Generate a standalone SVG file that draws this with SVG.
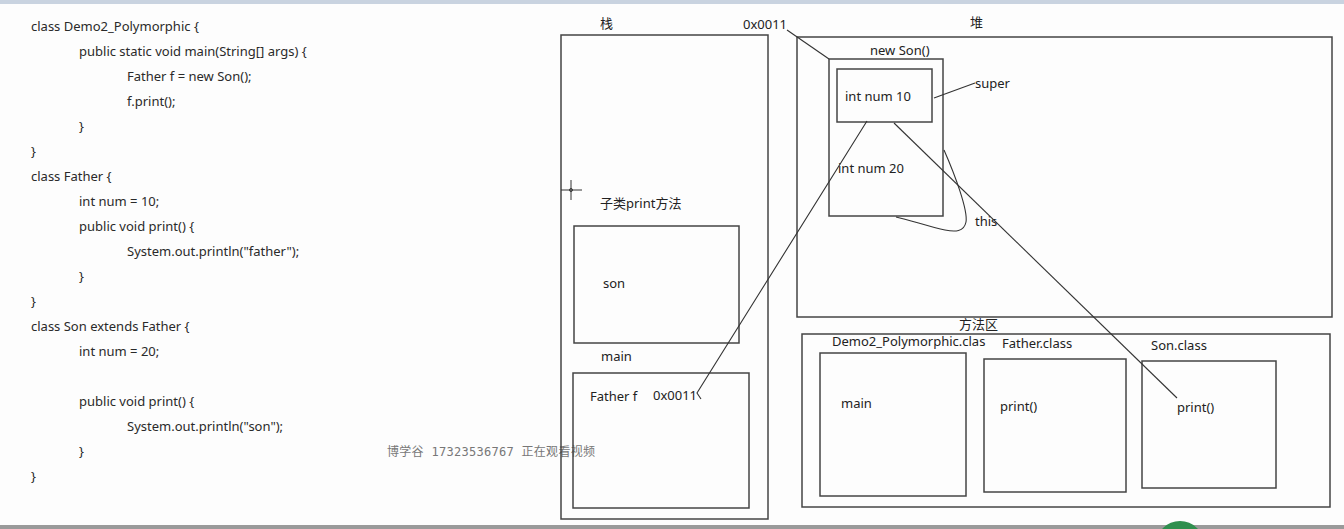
<svg xmlns="http://www.w3.org/2000/svg" width="1344" height="529" viewBox="0 0 1344 529">
  <style>
    .code { font-family: "Noto Sans", "Open Sans", sans-serif; font-size: 13px; fill: #2a2a2a; }
    .lbl { font-family: "Noto Sans", "Noto Sans CJK SC", sans-serif; font-size: 13px; fill: #222; }
    .box { fill: none; stroke: #444; stroke-width: 1.5; }
    .wire { fill: none; stroke: #333; stroke-width: 1.1; }
    .mark { font-family: "DejaVu Sans Mono", "Noto Sans CJK SC", monospace; font-size: 12px; fill: #777; }
  </style>

  <!-- page -->
  <rect x="0" y="0" width="1344" height="529" fill="#fdfdfd"/>
  <rect x="0" y="0" width="1344" height="4" fill="#c9d3e0"/>
  <rect x="0" y="525" width="1344" height="4" fill="#9a9a9a"/>
  <circle cx="1180" cy="545" r="24" fill="#2f8f4e"/>

  <!-- source code -->
  <g id="code">
    <text class="code" x="31" y="31">class Demo2_Polymorphic {</text>
    <text class="code" x="79" y="56">public static void main(String[] args) {</text>
    <text class="code" x="127" y="81">Father f = new Son();</text>
    <text class="code" x="127" y="106">f.print();</text>
    <text class="code" x="79" y="131">}</text>
    <text class="code" x="31" y="156">}</text>
    <text class="code" x="31" y="181">class Father {</text>
    <text class="code" x="79" y="206">int num = 10;</text>
    <text class="code" x="79" y="231">public void print() {</text>
    <text class="code" x="127" y="256">System.out.println("father");</text>
    <text class="code" x="79" y="281">}</text>
    <text class="code" x="31" y="306">}</text>
    <text class="code" x="31" y="331">class Son extends Father {</text>
    <text class="code" x="79" y="356">int num = 20;</text>
    <text class="code" x="79" y="406">public void print() {</text>
    <text class="code" x="127" y="431">System.out.println("son");</text>
    <text class="code" x="79" y="456">}</text>
    <text class="code" x="31" y="481">}</text>
  </g>

  <text class="mark" x="387" y="456" textLength="208" lengthAdjust="spacing">博学谷 17323536767 正在观看视频</text>

  <!-- stack -->
  <g id="stack">
    <text class="lbl" x="600" y="28">栈</text>
    <rect class="box" x="561" y="35" width="207" height="484"/>
  </g>
  <g id="son-print-frame">
    <text class="lbl" x="600" y="208">子类print方法</text>
    <rect class="box" x="574" y="226" width="165" height="117"/>
    <text class="lbl" x="603" y="288">son</text>
  </g>
  <g id="main-frame">
    <text class="lbl" x="601" y="361">main</text>
    <rect class="box" x="573" y="373" width="176" height="135"/>
    <text class="lbl" x="590" y="401">Father f</text>
    <text class="lbl" x="653" y="400">0x0011</text>
  </g>

  <!-- cursor -->
  <g id="cursor" stroke="#333" stroke-width="1" fill="none">
    <line x1="561" y1="190" x2="582" y2="190"/>
    <line x1="571" y1="180" x2="571" y2="200"/>
    <circle cx="571" cy="190" r="1.5"/>
  </g>

  <!-- heap -->
  <g id="heap">
    <text class="lbl" x="970" y="27">堆</text>
    <text class="lbl" x="743" y="29">0x0011</text>
    <rect class="box" x="797" y="37" width="535" height="280"/>
  </g>
  <g id="son-object">
    <text class="lbl" x="870" y="55">new Son()</text>
    <rect class="box" x="829" y="59" width="114" height="157"/>
    <rect class="box" x="837" y="69" width="95" height="53"/>
    <text class="lbl" x="845" y="101">int num 10</text>
    <text class="lbl" x="838" y="173">int num 20</text>
    <text class="lbl" x="975" y="88">super</text>
    <text class="lbl" x="975" y="226">this</text>
  </g>

  <!-- method area -->
  <g id="method-area">
    <text class="lbl" x="959" y="329" font-size="12.5">方法区</text>
    <rect class="box" x="802" y="334" width="528" height="173"/>
  </g>
  <g id="demo-class">
    <text class="lbl" x="832" y="346" font-size="12.5">Demo2_Polymorphic.clas</text>
    <rect class="box" x="820" y="353" width="146" height="143"/>
    <text class="lbl" x="841" y="408">main</text>
  </g>
  <g id="father-class">
    <text class="lbl" x="1002" y="348">Father.class</text>
    <rect class="box" x="984" y="359" width="142" height="133"/>
    <text class="lbl" x="1000" y="411">print()</text>
  </g>
  <g id="son-class">
    <text class="lbl" x="1151" y="350">Son.class</text>
    <rect class="box" x="1142" y="361" width="134" height="127"/>
    <text class="lbl" x="1177" y="412">print()</text>
  </g>

  <!-- connectors -->
  <g id="connectors">
    <path class="wire" d="M787 30 L829 59"/>
    <path class="wire" d="M867 121 L697 393 L701 399"/>
    <path class="wire" d="M894 123 L1177 398"/>
    <path class="wire" d="M934 98 L975 83"/>
    <path class="wire" d="M944 150 C955 175 968 210 966 222 C964 232 955 232 945 230 C930 227 910 220 896 217"/>
  </g>
</svg>
